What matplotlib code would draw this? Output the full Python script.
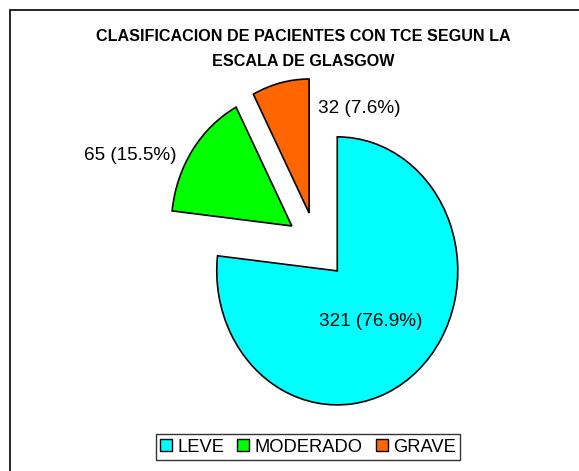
import numpy as np
import matplotlib
matplotlib.use("Agg")
import matplotlib.pyplot as plt
from matplotlib.patches import Rectangle

plt.rcParams['font.family'] = ['Liberation Sans', 'DejaVu Sans']

categories = ["LEVE", "MODERADO", "GRAVE"]
values = [321, 65, 32]
labels = ["321 (76.9%)", "65 (15.5%)", "32 (7.6%)"]
colors = ["#00FFFF", "#00FF00", "#FF6600"]
explode = [0.265, 0.243, 0.241]

W, H = 579, 471
fig = plt.figure(figsize=(W / 100, H / 100), dpi=100)

# frame border (top & left visible, right/bottom cropped)
fig.patches.append(Rectangle((10 / W, -0.1), 1.2, 1 - 10 / H + 0.1, transform=fig.transFigure,
                             fill=False, edgecolor="black", linewidth=1.2))

ax = fig.add_axes([0, 0, 1, 1])
wedges, _ = ax.pie(values, colors=colors, explode=explode, startangle=90, counterclock=False,
                   wedgeprops=dict(edgecolor="black", linewidth=1.2))
ax.set_aspect('auto')
cx, cy = 316.0, 244.4
rx, ry = 120.5, 134.0
ax.set_xlim(-cx / rx, (W - cx) / rx)
ax.set_ylim((cy - H) / ry, cy / ry)
ax.axis('off')

# label placement (radius, angle) relative to each wedge apex
label_pos = [(0.47, -54), (1.44, 158.5), (0.887, 62)]
for w, lab, (r, a) in zip(wedges, labels, label_pos):
    x0, y0 = w.center
    ax.text(x0 + r * np.cos(np.radians(a)), y0 + r * np.sin(np.radians(a)), lab,
            ha="center", va="center", fontsize=13.6, color="black")

fig.text(303 / W, 1 - 36.5 / H, "CLASIFICACION DE PACIENTES CON TCE SEGUN LA",
         ha="center", va="center", fontsize=11.6, fontweight="bold")
fig.text(303 / W, 1 - 62 / H, "ESCALA DE GLASGOW",
         ha="center", va="center", fontsize=11.6, fontweight="bold")

leg = fig.legend(wedges, categories, ncol=3, loc="center", bbox_to_anchor=(308 / W, 1 - 447 / H),
                 fontsize=13.2, frameon=True, fancybox=False, edgecolor="black",
                 handlelength=0.65, handleheight=0.65, handletextpad=0.3, columnspacing=0.7,
                 borderpad=0.25, borderaxespad=0)
leg.get_frame().set_linewidth(1.0)
for h in leg.legend_handles:
    h.set_linewidth(1.0)

fig.savefig("out.png", dpi=100, facecolor="white")
